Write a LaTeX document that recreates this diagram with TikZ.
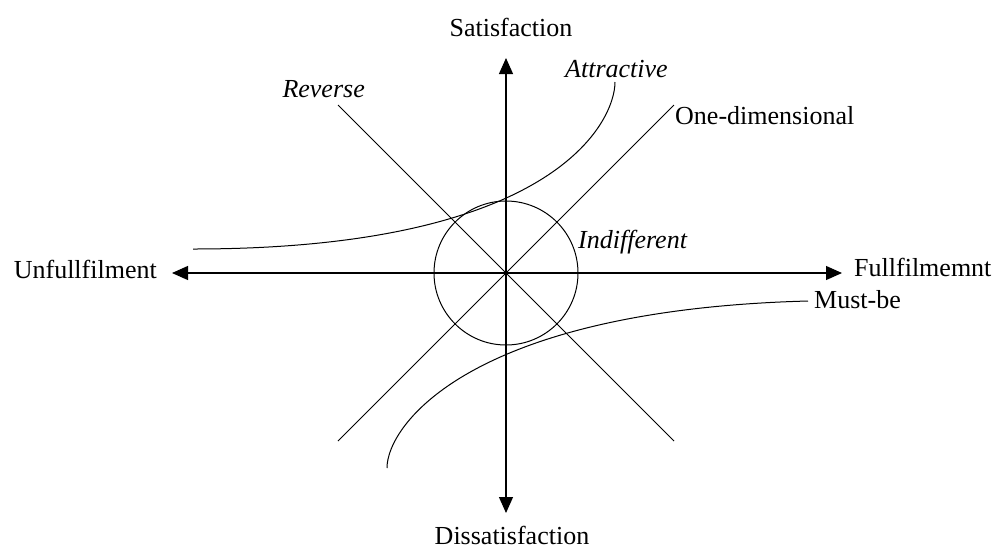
\documentclass[tikz,border=0pt]{standalone}
\usepackage{fontspec}
\setmainfont{Liberation Serif}
\usetikzlibrary{arrows.meta}
\begin{document}
\begin{tikzpicture}[x=1pt,y=-1pt,
  lbl/.style={inner sep=0pt,font=\fontsize{26}{30}\selectfont},
  ilbl/.style={lbl,font=\fontsize{26}{30}\selectfont\itshape},
  axis/.style={line width=1.2pt,-{Triangle[length=16pt,width=14pt]}},
  thin line/.style={line width=1pt}]
\useasboundingbox (0,0) rectangle (997,550);
% coordinates
\coordinate (O) at (506,273);
\coordinate (top) at (506,58);
\coordinate (bot) at (506,513);
\coordinate (left) at (172,273);
\coordinate (right) at (842,273);
\coordinate (revA) at (338,105);
\coordinate (revB) at (674,441);
\coordinate (oneA) at (338,441);
\coordinate (oneB) at (674,105);
\coordinate (attA) at (193,249);
\coordinate (attB) at (615,82);
\coordinate (musA) at (808,301);
\coordinate (musB) at (387,468);
% labels
\node[lbl,anchor=base] (sat) at (511,36) {Satisfaction};
\node[lbl,anchor=base] (dis) at (512,544) {Dissatisfaction};
\node[lbl,anchor=base east] (unf) at (157,278) {Unfullfilment};
\node[lbl,anchor=base west] (ful) at (854,276) {Fullfilmemnt};
\node[lbl,anchor=base west] (must) at (814,308) {Must-be};
\node[ilbl,anchor=base west] (attr) at (565,77) {Attractive};
\node[ilbl,anchor=base east] (rev) at (365,97) {Reverse};
\node[lbl,anchor=base west] (one) at (675,124) {One-dimensional};
\node[ilbl,anchor=base west] (ind) at (578,248) {Indifferent};
% axes
\draw[axis] (O) -- (top);
\draw[axis] (O) -- (bot);
\draw[axis] (O) -- (left);
\draw[axis] (O) -- (right);
% diagonals
\draw[thin line] (revA) -- (revB);
\draw[thin line] (oneA) -- (oneB);
% circle
\draw[thin line] (O) circle[radius=72];
% curves
\draw[thin line] (attA) .. controls (556,249) and (615,121) .. (attB);
\draw[thin line] (musA) .. controls (470,310) and (387,425) .. (musB);
\end{tikzpicture}
\end{document}
